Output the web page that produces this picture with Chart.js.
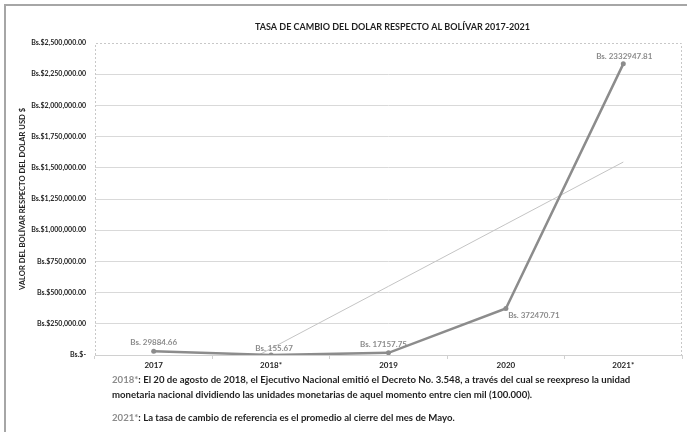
<!DOCTYPE html>
<html>
<head>
<meta charset="utf-8">
<script src="https://cdn.jsdelivr.net/npm/chart.js@4.4.1/dist/chart.umd.min.js"></script>
<style>
  html, body { margin: 0; padding: 0; background: #fff; }
  #wrap { position: relative; width: 687px; height: 432px; overflow: hidden; }
  #frame { position: absolute; left: 4px; top: 4px; width: 700px; height: 440px;
           border-left: 2px solid #a6a6a6; border-top: 2px solid #a6a6a6; box-sizing: border-box; }
  canvas { position: absolute; left: 0; top: 0; }
  .note { position: absolute; left: 112px; font-family: Lato, "Open Sans", sans-serif;
          font-weight: bold; font-size: 9.6px; color: #1f1f1f; white-space: nowrap; }
  .note .k { color: #8c8c8c; }
</style>
</head>
<body>
<div id="wrap">
  <div id="frame"></div>
  <canvas id="c" width="687" height="432"></canvas>
  <div class="note" style="top:374px"><span class="k">2018*</span>: El 20 de agosto de 2018, el Ejecutivo Nacional emitió el Decreto No. 3.548, a través del cual se reexpreso la unidad</div>
  <div class="note" style="top:389px">monetaria nacional dividiendo las unidades monetarias de aquel momento entre cien mil (100.000).</div>
  <div class="note" style="top:412px"><span class="k">2021*</span>: La tasa de cambio de referencia es el promedio al cierre del mes de Mayo.</div>
</div>
<script>
// Exchange rate, bolívares per US dollar
const years = ["2017", "2018*", "2019", "2020", "2021*"];
const rates = [29884.66, 155.67, 17157.75, 372470.71, 2332947.81];
const yTicks = [0, 250000, 500000, 750000, 1000000, 1250000, 1500000, 1750000, 2000000, 2250000, 2500000];

// Least-squares linear trend over the series
function linearTrend(vals) {
  const n = vals.length;
  const mx = (n - 1) / 2;
  const my = vals.reduce((a, b) => a + b, 0) / n;
  let num = 0, den = 0;
  vals.forEach((v, i) => { num += (i - mx) * (v - my); den += (i - mx) * (i - mx); });
  const b = num / den;
  return vals.map((_, i) => my + b * (i - mx));
}
const trend = linearTrend(rates);

const FONT = 'Lato, "Open Sans", sans-serif';

function fmtTick(v) {
  if (v === 0) return 'Bs.$-';
  return 'Bs.$' + v.toLocaleString('en-US', { minimumFractionDigits: 2, maximumFractionDigits: 2 });
}

// Label placement per point: [dx, dy] from the point, text centered
const labelOffsets = [[0, -9], [3, -7], [-5, -8], [28, 7], [1, -7]];

const decorations = {
  id: 'decorations',
  beforeDatasetsDraw(chart) {
    const { ctx, chartArea: a } = chart;
    ctx.save();
    ctx.strokeStyle = '#c8c8c8';
    ctx.lineWidth = 1;
    ctx.setLineDash([2, 2]);
    ctx.beginPath();
    ctx.moveTo(a.left + 0.5, a.bottom);
    ctx.lineTo(a.left + 0.5, a.top + 0.5);
    ctx.lineTo(a.right - 0.5, a.top + 0.5);
    ctx.lineTo(a.right - 0.5, a.bottom);
    ctx.stroke();
    ctx.restore();
  },
  afterDraw(chart) {
    const { ctx, chartArea: a } = chart;
    ctx.save();
    // title
    ctx.fillStyle = '#1f1f1f';
    ctx.font = 'bold 9px ' + FONT;
    ctx.textAlign = 'center';
    ctx.textBaseline = 'middle';
    ctx.fillText('TASA DE CAMBIO DEL DOLAR RESPECTO AL BOLÍVAR 2017-2021', (a.left + a.right) / 2 + 4, 27);
    // value labels
    const meta = chart.getDatasetMeta(0);
    ctx.font = 'bold 8px ' + FONT;
    ctx.fillStyle = '#8c8c8c';
    meta.data.forEach((pt, i) => {
      const [dx, dy] = labelOffsets[i];
      ctx.fillText('Bs. ' + rates[i].toFixed(2), pt.x + dx, pt.y + dy);
    });
    ctx.restore();
  }
};

new Chart(document.getElementById('c'), {
  type: 'line',
  data: {
    labels: years,
    datasets: [
      {
        data: rates,
        borderColor: '#8c8c8c',
        backgroundColor: '#8c8c8c',
        borderWidth: 2.5,
        pointRadius: 2.5,
        pointBackgroundColor: '#8c8c8c',
        pointBorderWidth: 0,
        tension: 0,
        order: 1
      },
      {
        data: trend,
        borderColor: '#c4c4c4',
        borderWidth: 1,
        pointRadius: 0,
        tension: 0,
        order: 2
      }
    ]
  },
  options: {
    responsive: false,
    animation: false,
    devicePixelRatio: 1,
    layout: { padding: { left: 18, right: 5, top: 43, bottom: 0 } },
    plugins: { legend: { display: false }, tooltip: { enabled: false }, title: { display: false } },
    scales: {
      x: {
        offset: true,
        grid: { offset: true, drawOnChartArea: false, drawTicks: true, tickLength: 4, color: '#d0d0d0' },
        border: { color: '#d0d0d0', width: 1 },
        ticks: { color: '#1f1f1f', font: { family: FONT, size: 8, weight: 'bold' }, padding: 2, maxRotation: 0 },
        afterFit(s) { s.height = 77; }
      },
      y: {
        min: 0,
        max: 2500000,
        afterBuildTicks(s) { s.ticks = yTicks.map(v => ({ value: v })); },
        grid: {
          drawTicks: false,
          color: ctx => (ctx.tick && ctx.tick.value === 2500000) ? 'rgba(0,0,0,0)' : '#d9d9d9'
        },
        border: { display: false },
        ticks: {
          color: '#1f1f1f',
          font: { family: FONT, size: 7, weight: 'bold' },
          padding: 9,
          callback: v => fmtTick(v)
        },
        title: {
          display: true,
          text: 'VALOR DEL BOLÍVAR RESPECTO DEL DOLAR USD $',
          color: '#1f1f1f',
          font: { family: FONT, size: 7.6, weight: 'bold' },
          padding: 0
        },
        afterFit(s) { s.width = 77; }
      }
    }
  },
  plugins: [decorations]
});
</script>
</body>
</html>
